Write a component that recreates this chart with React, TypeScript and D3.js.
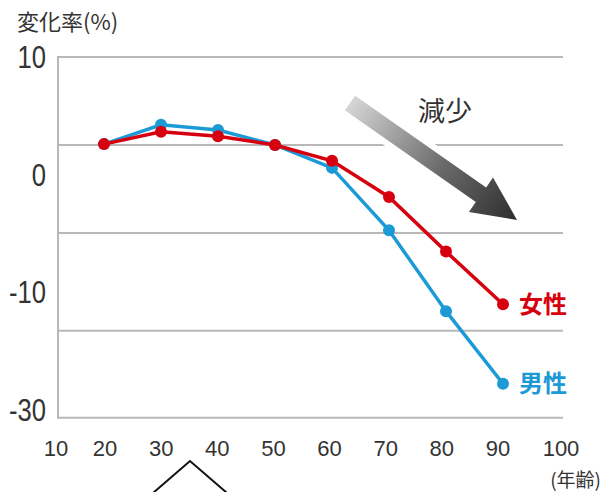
import React from "react";
import * as d3 from "d3";

// ages on the x axis
const ages = [20, 30, 40, 50, 60, 70, 80, 90];
// change rate (%)
const male = [0.1, 2.3, 1.7, 0, -2.6, -9.7, -18.0, -26.1];
const female = [0.1, 1.5, 1.0, 0, -1.8, -5.9, -11.9, -17.3];

const xTicks = [10, 20, 30, 40, 50, 60, 70, 80, 90, 100];
const gridValues = [10, 0, -10, -20, -30];
const yLabels = ["10", "0", "-10", "-30"];
const yLabelAt = [10, -3.4, -16, -29.1];

const W = 602;
const H = 492;
const RED = "#d7000f";
const BLUE = "#1c9ad6";
const GRID = "#b8b8b8";
const JP = "'Noto Sans CJK JP', sans-serif";
const NUM = "'Liberation Sans', Arial, sans-serif";

export default function App() {
  const x = d3.scaleLinear().domain([10, 100]).range([47, 560]);
  // the original axis is not evenly spaced below -10
  const y = d3.scaleLinear().domain([10, 0, -10, -20, -30]).range([57, 145, 233, 330.7, 417.7]);
  // tick labels drift a little from the data grid in the source
  const xLabel = d3.scaleLinear().domain([10, 20, 90, 100]).range([56, 105, 498, 561]);

  const left = 58;
  const right = 563;
  const squeeze = 0.8; // y labels use a condensed face

  const line = d3
    .line<number>()
    .x((d, i) => x(ages[i]))
    .y((d) => y(d));

  // arrow "減少"
  const a0: [number, number] = [350, 103];
  const a1: [number, number] = [517, 220];
  const ang = (Math.atan2(a1[1] - a0[1], a1[0] - a0[0]) * 180) / Math.PI;
  const len = Math.hypot(a1[0] - a0[0], a1[1] - a0[1]);
  const sw = 9;
  const hw = 21;
  const hl = 44;
  const arrow = `M0,${-sw} L${len - hl},${-sw} L${len - hl},${-hw} L${len},0 L${len - hl},${hw} L${len - hl},${sw} L0,${sw} Z`;

  return (
    <svg width={W} height={H} style={{ position: "absolute", left: 0, top: 0, background: "#fff" }}>
      <defs>
        <linearGradient id="arrowGrad" x1="0" x2="1" y1="0" y2="0">
          <stop offset="0" stopColor="#d6d6d6" />
          <stop offset="0.55" stopColor="#6a6a6a" />
          <stop offset="1" stopColor="#2e2e2e" />
        </linearGradient>
      </defs>

      <text x={17} y={22} dy="0.35em" fontFamily={JP} fontSize={22} fill="#333">
        変化率(%)
      </text>

      {gridValues.map((v) => (
        <line key={v} x1={left} x2={right} y1={y(v)} y2={y(v)} stroke={GRID} strokeWidth={2} />
      ))}
      <line x1={left} x2={left} y1={y(10) - 1} y2={y(-30) + 1} stroke={GRID} strokeWidth={2} />

      <g transform={`scale(${squeeze},1)`}>
        {yLabels.map((t, i) => (
          <text key={t} x={46 / squeeze} y={y(yLabelAt[i])} dy="0.35em" textAnchor="end" fontFamily={NUM} fontSize={32} fill="#333">
            {t}
          </text>
        ))}
      </g>

      {xTicks.map((t) => (
        <text key={t} x={xLabel(t)} y={448} dy="0.35em" textAnchor="middle" fontFamily={NUM} fontSize={22} fill="#333">
          {t}
        </text>
      ))}
      <text x={601} y={480} dy="0.35em" textAnchor="end" fontFamily={JP} fontSize={19} fill="#333">
        (年齢)
      </text>

      <g transform={`translate(${a0[0]},${a0[1]}) rotate(${ang})`}>
        <path d={arrow} fill="none" stroke="#fff" strokeWidth={12} strokeLinejoin="miter" />
        <path d={arrow} fill="url(#arrowGrad)" />
      </g>
      <text x={445} y={112} dy="0.35em" textAnchor="middle" fontFamily={JP} fontSize={27} fill="#333">
        減少
      </text>

      <path d={line(male) ?? ""} fill="none" stroke={BLUE} strokeWidth={3.5} />
      {male.map((v, i) => (
        <circle key={"m" + i} cx={x(ages[i])} cy={y(v)} r={6} fill={BLUE} />
      ))}
      <path d={line(female) ?? ""} fill="none" stroke={RED} strokeWidth={3.5} />
      {female.map((v, i) => (
        <circle key={"f" + i} cx={x(ages[i])} cy={y(v)} r={6} fill={RED} />
      ))}

      <text x={519} y={y(female[female.length - 1])} dy="0.35em" fontFamily={JP} fontWeight="bold" fontSize={24} fill={RED}>
        女性
      </text>
      <text x={519} y={y(male[male.length - 1])} dy="0.35em" fontFamily={JP} fontWeight="bold" fontSize={24} fill={BLUE}>
        男性
      </text>

      {/* callout stub cut off at the bottom edge */}
      <path d="M153,493 L190,461 L227,493" fill="none" stroke="#111" strokeWidth={2} />
    </svg>
  );
}
